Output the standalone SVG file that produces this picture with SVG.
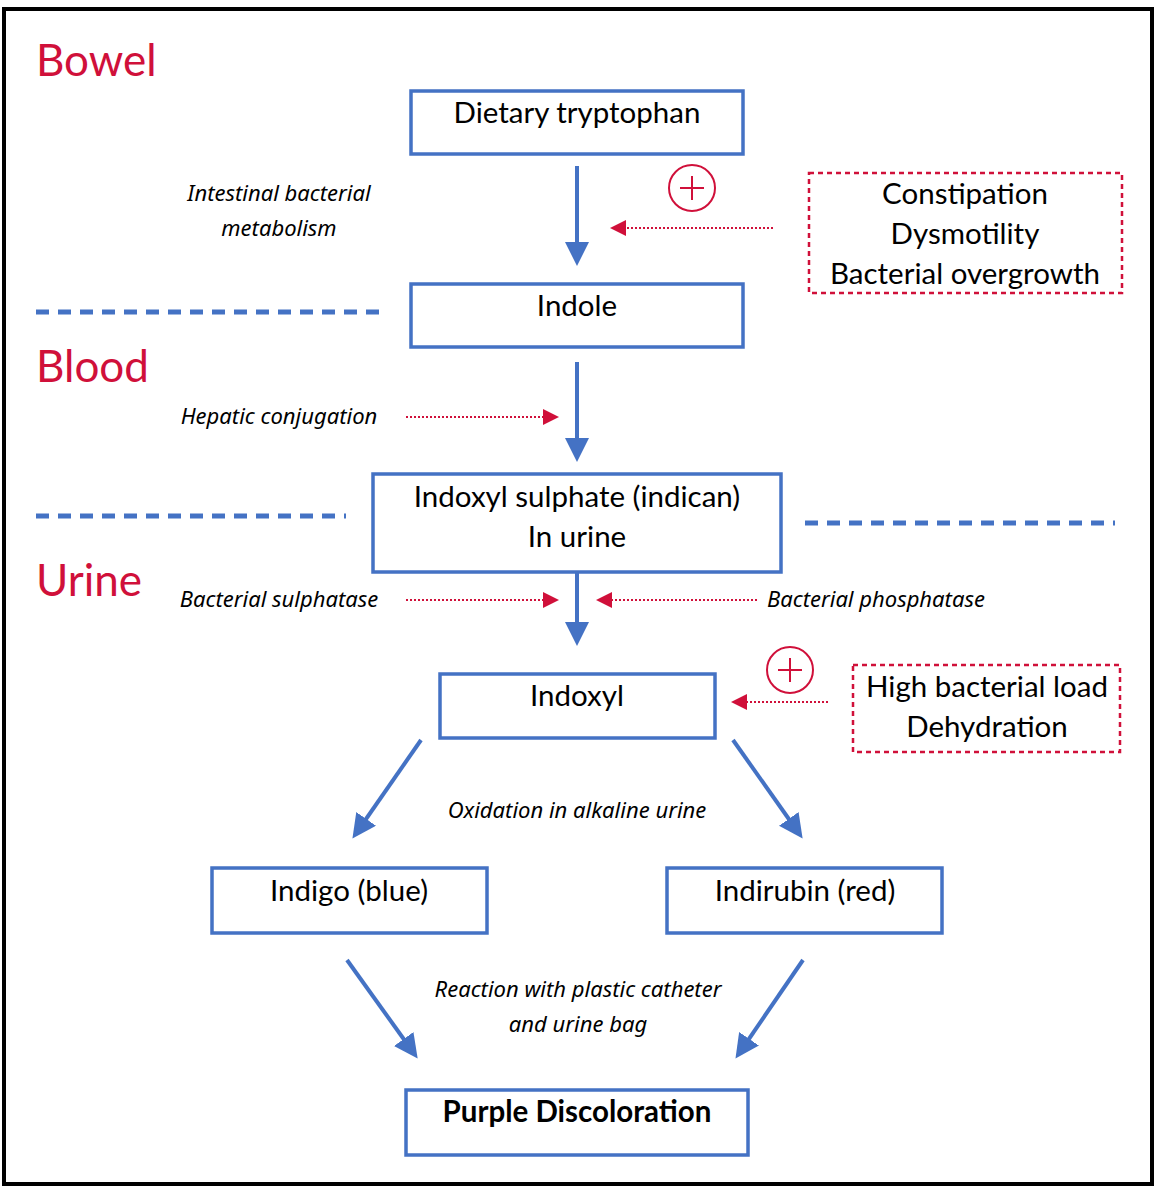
<svg xmlns="http://www.w3.org/2000/svg" width="1156" height="1190" viewBox="0 0 1156 1190">
<style>
.box{fill:#fff;stroke:#4472C4;stroke-width:3.5}
.t{font-family:Lato,"Noto Sans",sans-serif;font-size:29.5px;fill:#000;text-anchor:middle}
.i{font-family:"Noto Sans",Lato,sans-serif;font-size:22px;font-style:italic;fill:#000}
.r{font-family:Lato,"Noto Sans",sans-serif;font-size:44px;fill:#D0103A}
.ba{stroke:#4472C4;stroke-width:4;fill:none;marker-end:url(#ab)}
.ra{stroke:#D0103A;stroke-width:2;stroke-dasharray:2 2;fill:none;marker-end:url(#ar)}
.dl{stroke:#4472C4;stroke-width:5;stroke-dasharray:13 9}
.rb{fill:none;stroke:#D0103A;stroke-width:2.5;stroke-dasharray:5 4}
</style>
<defs>
<marker id="ab" markerWidth="6" markerHeight="6" refX="4" refY="3" orient="auto" markerUnits="strokeWidth"><path d="M0,0 L6,3 L0,6 z" fill="#4472C4"/></marker>
<marker id="ar" markerWidth="8" markerHeight="8" refX="6" refY="4" orient="auto" markerUnits="strokeWidth"><path d="M0,0 L8,4 L0,8 z" fill="#D0103A"/></marker>
</defs>
<rect x="0" y="0" width="1156" height="1190" fill="#fff"/>
<rect x="4" y="9" width="1148" height="1175" fill="none" stroke="#000" stroke-width="4"/>
<text class="r" x="36" y="76">Bowel</text>
<text class="r" x="36" y="382">Blood</text>
<text class="r" x="36" y="596">Urine</text>
<g id="lines">
<line class="dl" x1="36" y1="312" x2="388" y2="312"/>
<line class="dl" x1="36" y1="516" x2="346" y2="516"/>
<line class="dl" x1="805" y1="523" x2="1115" y2="523"/>
</g>
<g id="n1"><rect class="box" x="411" y="91" width="332" height="63"/><text class="t" x="577" y="123">Dietary tryptophan</text></g>
<g id="n2"><rect class="box" x="411" y="284" width="332" height="63"/><text class="t" x="577" y="316">Indole</text></g>
<g id="n3"><rect class="box" x="373" y="474" width="408" height="98"/><text class="t" x="577" y="507">Indoxyl sulphate (indican)</text><text class="t" x="577" y="547">In urine</text></g>
<g id="n4"><rect class="box" x="440" y="674" width="275" height="64"/><text class="t" x="577" y="706">Indoxyl</text></g>
<g id="n5"><rect class="box" x="212" y="868" width="275" height="65"/><text class="t" x="349" y="901">Indigo (blue)</text></g>
<g id="n6"><rect class="box" x="667" y="868" width="275" height="65"/><text class="t" x="805" y="901">Indirubin (red)</text></g>
<g id="n7"><rect class="box" x="406" y="1090" width="342" height="65"/><text class="t" x="577" y="1122" font-weight="bold">Purple Discoloration</text></g>
<g id="f1"><rect class="rb" x="809" y="173" width="313" height="120"/><text class="t" x="965" y="204">Constipation</text><text class="t" x="965" y="244">Dysmotility</text><text class="t" x="965" y="284">Bacterial overgrowth</text></g>
<g id="f2"><rect class="rb" x="853" y="665" width="267" height="87"/><text class="t" x="987" y="697">High bacterial load</text><text class="t" x="987" y="737">Dehydration</text></g>
<g id="p1"><circle cx="692" cy="188" r="23" fill="none" stroke="#D0103A" stroke-width="2"/><path d="M680,188H704M692,176V200" stroke="#D0103A" stroke-width="2"/></g>
<g id="p2"><circle cx="790" cy="670" r="23" fill="none" stroke="#D0103A" stroke-width="2"/><path d="M778,670H802M790,658V682" stroke="#D0103A" stroke-width="2"/></g>
<text class="i" x="279" y="201" text-anchor="middle">Intestinal bacterial</text>
<text class="i" x="279" y="236" text-anchor="middle">metabolism</text>
<text class="i" x="279" y="424" text-anchor="middle">Hepatic conjugation</text>
<text class="i" x="279" y="607" text-anchor="middle">Bacterial sulphatase</text>
<text class="i" x="767" y="607">Bacterial phosphatase</text>
<text class="i" x="577" y="818" text-anchor="middle">Oxidation in alkaline urine</text>
<text class="i" x="578" y="997" text-anchor="middle">Reaction with plastic catheter</text>
<text class="i" x="578" y="1032" text-anchor="middle">and urine bag</text>
<g id="connectors">
<line class="ba" x1="577" y1="166" x2="577" y2="258"/>
<line class="ba" x1="577" y1="362" x2="577" y2="454"/>
<line class="ba" x1="577" y1="572" x2="577" y2="638"/>
<line class="ba" x1="421" y1="740" x2="357" y2="832"/>
<line class="ba" x1="733" y1="740" x2="798" y2="832"/>
<line class="ba" x1="347" y1="960" x2="413" y2="1052"/>
<line class="ba" x1="803" y1="960" x2="740" y2="1052"/>
<line class="ra" x1="773" y1="228" x2="614" y2="228"/>
<line class="ra" x1="406" y1="417" x2="555" y2="417"/>
<line class="ra" x1="406" y1="600" x2="555" y2="600"/>
<line class="ra" x1="757" y1="600" x2="600" y2="600"/>
<line class="ra" x1="828" y1="702" x2="735" y2="702"/>
</g>
</svg>
